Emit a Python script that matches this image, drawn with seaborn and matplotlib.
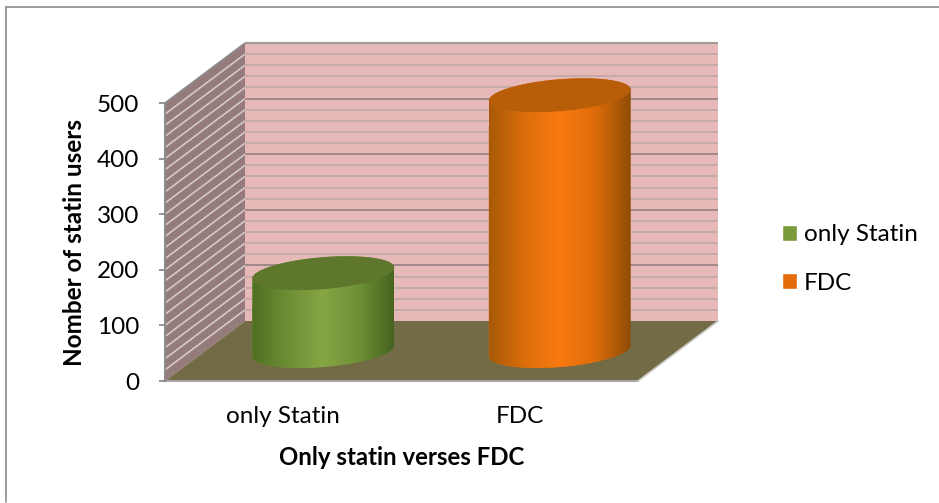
import numpy as np
import pandas as pd
import matplotlib
matplotlib.use("Agg")
import matplotlib.pyplot as plt
import seaborn as sns
from matplotlib.colors import LinearSegmentedColormap
from matplotlib.lines import Line2D
from matplotlib.patches import Polygon
from matplotlib.transforms import IdentityTransform

groups = ["only Statin", "FDC"]
users = [140, 460]
y_ticks = [0, 100, 200, 300, 400, 500]
minor_ticks = [v for v in range(0, 501, 20) if v % 100 != 0]
legend_colors = ["#7A9A3C", "#E56C0A"]
# dark edge, mid, highlight, mid, darkest edge
body_shades = [
    ["#4F6F22", "#6E8E35", "#86A544", "#6F9036", "#466420"],
    ["#A85A08", "#DD6E0C", "#F97A10", "#DD6C0A", "#8F4C06"],
]
top_colors = ["#5F772C", "#B85E08"]

sns.set_theme(style="white")
plt.rcParams["font.family"] = ["Lato", "DejaVu Sans"]

W, H = 939, 503
fig = plt.figure(figsize=(W / 100, H / 100), dpi=100)
ax = fig.add_axes([165 / W, 1 - 381 / H, (638 - 165) / W, (381 - 103) / H])

df = pd.DataFrame({"group": groups, "users": users})
sns.barplot(data=df, x="group", y="users", hue="group", palette=legend_colors,
            dodge=False, width=0.6, legend=True, saturation=1, ax=ax)
bars = [p for c in ax.containers for p in c if p.get_height() > 0]
ax.set_xlim(-0.5, 1.5)
ax.set_ylim(0, 500)
ax.set_yticks(y_ticks)
ax.patch.set_visible(False)

# depth of the 3d box in pixels
depth = np.array([80, 60])


def to_px(x, y, d=0.0):
    return ax.transData.transform(np.column_stack([x, y])) + depth * d


def poly(pts, **kw):
    p = Polygon(pts, closed=True, transform=IdentityTransform(), clip_on=False, **kw)
    ax.add_patch(p)
    return p


def wall_line(p0, p1, color, lw):
    ax.plot([p0[0], p1[0]], [p0[1], p1[1]], color=color, lw=lw,
            transform=IdentityTransform(), clip_on=False, zorder=1.2,
            solid_capstyle="butt")


# walls and floor
xs = [-0.5, 1.5]
back = to_px([xs[0], xs[1], xs[1], xs[0]], [0, 0, 500, 500], 1)
poly(back, fc="#E6B8B7", ec="none", zorder=1)
side = np.vstack([to_px([xs[0], xs[0]], [0, 500], 0), to_px([xs[0], xs[0]], [500, 0], 1)])
poly(side, fc="#957B7C", ec="none", zorder=1)
floor = np.vstack([to_px(xs, [0, 0], 0), to_px(xs[::-1], [0, 0], 1)])
poly(floor, fc="#726B45", ec="none", zorder=1.3)

for v in minor_ticks:
    a, b = to_px(xs, [v, v], 1)
    wall_line(a, b, "#BFA8A8", 1.2)
    a, b = to_px([xs[0]], [v], 0)[0], to_px([xs[0]], [v], 1)[0]
    wall_line(a, b, "#D6CAC5", 1.2)
for v in y_ticks[1:]:
    a, b = to_px(xs, [v, v], 1)
    wall_line(a, b, "#9C8686", 1.3)
    a, b = to_px([xs[0]], [v], 0)[0], to_px([xs[0]], [v], 1)[0]
    wall_line(a, b, "#D6CAC5" if v < 500 else "#8C8C8C", 1.2)

a, b = to_px(xs, [500, 500], 1)
wall_line(a, b, "#A09A98", 1.5)
a, b = to_px(xs, [0, 0], 0)
ax.plot([a[0], b[0]], [a[1], b[1]], color="#A6A6A6", lw=1.5,
        transform=IdentityTransform(), clip_on=False, zorder=1.4)
b2 = to_px([xs[1]], [0], 1)[0]
ax.plot([b[0], b2[0]], [b[1], b2[1]], color="#C8C8C8", lw=1.2,
        transform=IdentityTransform(), clip_on=False, zorder=1.4)

# bars -> cylinders, sitting halfway back in the box
for i, bar in enumerate(bars):
    x0, x1 = bar.get_x(), bar.get_x() + bar.get_width()
    v = bar.get_height()
    low = to_px([x0, x1], [0, 0], 0.5)
    high = to_px([x0, x1], [v, v], 0.5)
    cx = low.mean(axis=0)[0]
    rx = (low[1, 0] - low[0, 0]) / 2
    y_low, y_high = low[0, 1], high[0, 1]

    def ring(yc, a0=0, a1=2 * np.pi):
        tt = np.linspace(a0, a1, 100)
        return np.column_stack([cx + rx * np.cos(tt),
                                yc + 16 * np.sin(tt) + 5.5 * np.cos(tt)])

    # side of the cylinder: lower half of the bottom ring, then up over the top ring
    body = np.vstack([ring(y_low, np.pi, 2 * np.pi), ring(y_high, 0, np.pi)])
    clip = Polygon(body, closed=True, transform=IdentityTransform(), fc="none", ec="none")
    ax.add_patch(clip)
    bar.set_clip_path(clip)
    bar.set_zorder(2)

    cmap = LinearSegmentedColormap.from_list("cyl", body_shades[i])
    inv = ax.transData.inverted()
    (ex0, ey0), (ex1, ey1) = inv.transform([[cx - rx, y_low - 30], [cx + rx, y_high + 30]])
    img = ax.imshow(np.linspace(0, 1, 256)[None, :], cmap=cmap, aspect="auto",
                    extent=[ex0, ex1, ey0, ey1], zorder=2.1, interpolation="bilinear")
    img.set_clip_box(fig.bbox)
    img.set_clip_path(clip)
    poly(ring(y_high), fc=top_colors[i], ec="none", zorder=2.2)

ax.set_xlim(-0.5, 1.5)
ax.set_ylim(0, 500)

# axes styling
sns.despine(ax=ax, top=True, right=True, bottom=True)
ax.spines["left"].set_color("#8C8C8C")
ax.spines["left"].set_linewidth(1.5)
ax.tick_params(axis="y", length=4.5, width=1.3, color="#8C8C8C", pad=14, labelsize=17.5, left=True,
               labelcolor="black")
ax.tick_params(axis="x", length=0, pad=18, labelsize=17.5, labelcolor="black")
ax.set_xlabel("Only statin verses FDC", fontsize=17.3, fontweight="bold", labelpad=13.5, color="black")
ax.set_ylabel("Nomber of statin users", fontsize=17.5, fontweight="bold", labelpad=8, color="black")

sns.move_legend(ax, "center left", bbox_to_anchor=(782 / W, 1 - 259 / H),
                bbox_transform=fig.transFigure, frameon=False, title=None, fontsize=17.5,
                handlelength=0.62, handleheight=0.62, handletextpad=0.29, labelspacing=1.13,
                borderpad=0, borderaxespad=0, labelcolor="black")

# only the top and left edges of the chart frame are in the picture
fig.add_artist(Line2D([5.5 / W, 1], [1 - 7 / H, 1 - 7 / H], transform=fig.transFigure,
                      color="#8C8C8C", lw=1.2))
fig.add_artist(Line2D([5.5 / W, 5.5 / W], [1 - 7 / H, 1 - 502 / H], transform=fig.transFigure,
                      color="#8C8C8C", lw=1.2))

fig.savefig("out.png", dpi=100)
